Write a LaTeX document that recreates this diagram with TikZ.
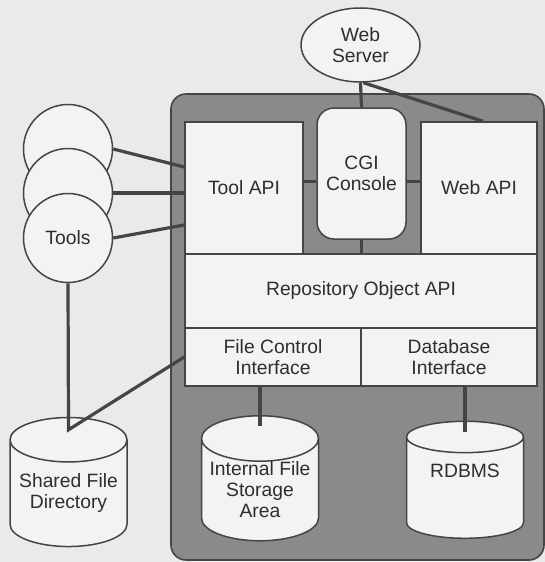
\documentclass[tikz,border=0pt]{standalone}
\usepackage{fontspec}
\setmainfont{Liberation Sans}
\usetikzlibrary{shapes.geometric, positioning, calc}

\definecolor{paper}{HTML}{EAEAEA}
\definecolor{boxfill}{HTML}{F3F3F3}
\definecolor{framefill}{HTML}{8A8A8A}
\definecolor{ink}{HTML}{454545}
\definecolor{txt}{HTML}{2E2E2E}

\begin{document}
\begin{tikzpicture}[
    x=1pt, y=-1pt,
    font=\fontsize{19.3}{21}\selectfont,
    text=txt,
    box/.style   ={draw=ink, line width=1.5pt, fill=boxfill, align=center,
                   inner sep=0pt},
    api/.style   ={box, minimum width=118pt, minimum height=132pt},
    iface/.style ={box, minimum width=176pt, minimum height=58pt},
    tool/.style  ={circle, draw=ink, line width=1.5pt, fill=boxfill,
                   minimum size=89pt, inner sep=0pt},
    store/.style ={cylinder, shape border rotate=90, aspect=0.45,
                   draw=ink, line width=1.5pt, fill=boxfill, align=center,
                   minimum width=117pt, inner sep=0pt},
    server/.style={ellipse, draw=ink, line width=1.5pt, fill=boxfill,
                   align=center, minimum width=119pt, minimum height=74pt,
                   inner sep=0pt},
    shell/.style ={draw=ink, line width=1.6pt, fill=framefill,
                   rounded corners=15pt},
    wire/.style  ={draw=ink, line width=3.2pt},
    stub/.style  ={draw=ink, line width=2.8pt}
  ]

  % ---- page -------------------------------------------------------------
  \fill[paper] (0,0) rectangle (545,562);
  \useasboundingbox (0,0) rectangle (545,562);

  % ---- repository shell -------------------------------------------------
  \node[shell, minimum width=373pt, minimum height=466pt] (shell) at (357.5,327) {};

  % ---- top row: APIs and console ----------------------------------------
  \node[api] (toolapi) at (244,188)   {Tool API};
  \node[api, minimum width=116pt] (webapi) at (479,188) {Web API};
  \node[box, rounded corners=17pt, minimum width=89pt, minimum height=131pt]
        (cgi) at (361.5,173.5) {CGI\\Console};

  % ---- object layer and interfaces --------------------------------------
  \node[box, minimum width=352pt, minimum height=74pt] (repo) at (361,291)
        {Repository Object API};
  \node[iface] (fci) at (273,357) {File Control\\Interface};
  \node[iface] (dbi) at (449,357) {Database\\Interface};

  % ---- outside: server and tools ----------------------------------------
  \node[server] (ws) at (360.5,45) {Web\\Server};
  \node[tool] (t1) at (68,149) {};
  \node[tool] (t2) at (68,193) {};
  \node[tool] (t3) at (68,238) {Tools};

  % ---- storage ----------------------------------------------------------
  \node[store, minimum height=129pt] (shared)   at (68.5,493.5) {Shared File\\Directory};
  \node[store, minimum height=117pt] (internal) at (260,490)    {Internal File\\Storage\\Area};
  \node[store, minimum height=117pt] (rdbms)    at (465,488)    {RDBMS\\[14pt]};

  % ---- server links -----------------------------------------------------
  \draw[wire] (ws.south) -- (cgi.north);
  \draw[wire] ([xshift=3pt]ws.south) -- ([xshift=4pt]webapi.north);

  % ---- console stubs ----------------------------------------------------
  \draw[stub] ([yshift=-8pt]cgi.west) -- ([yshift=-8pt]cgi.west -| toolapi.east);
  \draw[stub] ([yshift=-8pt]cgi.east) -- ([yshift=-8pt]cgi.east -| webapi.west);
  \draw[stub] (cgi.south) -- (cgi.south |- repo.north);

  % ---- tools -> tool api ------------------------------------------------
  \draw[wire] (t1.east) -- ([yshift=21pt]toolapi.west);
  \draw[wire] (t2.east) -- (t2.east -| toolapi.west);
  \draw[wire] (t3.east) -- ([yshift=-37pt]toolapi.west);

  % ---- shared directory: tools and file control -------------------------
  \coordinate (sharedTop) at ([yshift=-13pt]shared.top);
  \draw[wire, line join=miter] (t3.south) -- (sharedTop) -- (fci.west);

  % ---- interfaces -> stores ---------------------------------------------
  \coordinate (internalTop) at ([yshift=-11pt]internal.top);
  \coordinate (rdbmsTop)    at ([yshift=-11pt]rdbms.top);
  \draw[wire] (internalTop) -- (internalTop |- fci.south);
  \draw[wire] (rdbmsTop)    -- (rdbmsTop |- dbi.south);

\end{tikzpicture}
\end{document}
